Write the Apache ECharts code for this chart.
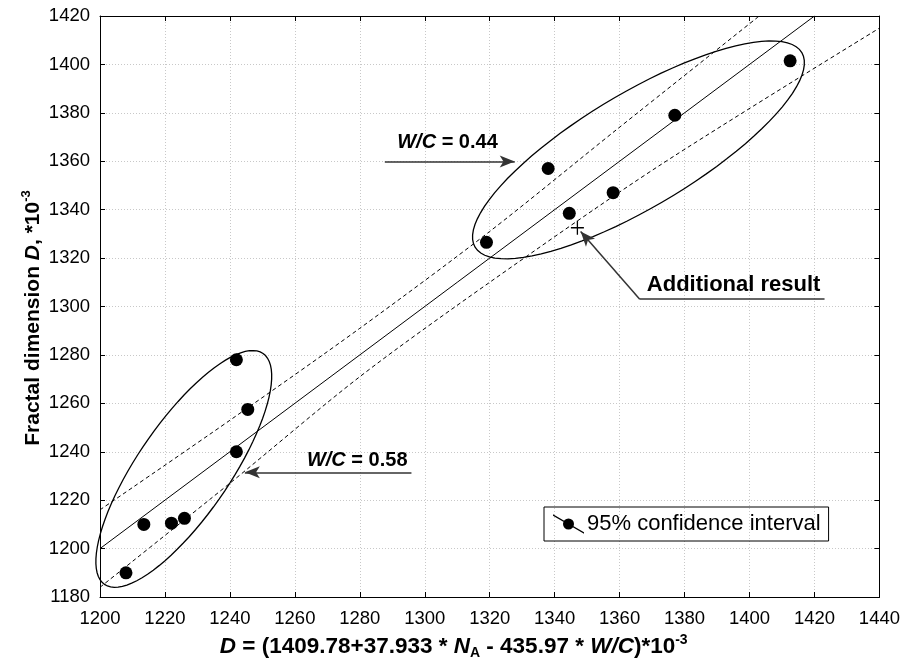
<!DOCTYPE html>
<html>
<head>
<meta charset="utf-8">
<title>Fractal dimension</title>
<script src="https://cdn.jsdelivr.net/npm/echarts/dist/echarts.min.js"></script>
<style>
  html, body { margin: 0; padding: 0; background: #fff; }
  #main { width: 903px; height: 670px; }
</style>
</head>
<body>
<div id="main"></div>
<script>
// measured points (x = calculated D, y = fractal dimension D), *10^-3
const lowGroup = [[1208, 1190], [1213.5, 1210], [1222, 1210.5], [1226, 1212.5], [1242, 1240], [1245.5, 1257.5], [1242, 1278]]
const highGroup = [[1319, 1326.5], [1338, 1357], [1344.5, 1338.5], [1358, 1347], [1377, 1379], [1412.5, 1401.5]]
const extraPoint = [[1347, 1332.5]]

// regression line and 95% band
const fitLine = [[1200, 1200], [1420, 1420]]
const upperBand = [[1200, 1216], [1240, 1253], [1280, 1291], [1320, 1331], [1359, 1373], [1403, 1420]]
const lowerBand = [[1200, 1184], [1240, 1227], [1280, 1271], [1320, 1310], [1372, 1358], [1440, 1415]]

// groups: centre x, centre y, major tip x, major tip y, minor/major ratio
const ellipses = [[1225.8, 1232.9, 1250.2, 1280.6, 0.33], [1365.8, 1364.7, 1416.1, 1404.9, 0.30]]

// annotations: [from, to] in data units
const arrow044 = [[1287.7, 1359.9], [1327.7, 1359.9]]
const arrow058 = [[1295.9, 1231.5], [1244.6, 1231.5]]
const resultUnder = [[1423.1, 1303], [1366.2, 1303]]
const resultLeader = [[1366.2, 1303], [1348, 1331]]
const labelPos = { wc044: [1307, 1367.8], wc058: [1279.2, 1236.3], result: [1395.1, 1309.1] }

const FONT = 'Liberation Sans, Arial, sans-serif'

function renderEllipse (params, api) {
  const c = api.coord([api.value(0), api.value(1)])
  const t = api.coord([api.value(2), api.value(3)])
  const dx = t[0] - c[0]
  const dy = t[1] - c[1]
  const a = Math.sqrt(dx * dx + dy * dy)
  const b = a * api.value(4)
  const ang = Math.atan2(dy, dx)
  const pts = []
  for (let k = 0; k <= 90; k++) {
    const s = k / 90 * Math.PI * 2
    const ex = a * Math.cos(s)
    const ey = b * Math.sin(s)
    pts.push([c[0] + ex * Math.cos(ang) - ey * Math.sin(ang), c[1] + ex * Math.sin(ang) + ey * Math.cos(ang)])
  }
  return {
    type: 'polygon',
    shape: { points: pts },
    style: { fill: 'none', stroke: '#000', lineWidth: 1.3 }
  }
}

function arrowLine (pair, withArrow) {
  return [
    { coord: pair[0], symbol: 'none' },
    { coord: pair[1], symbol: withArrow ? 'arrow' : 'none', symbolSize: [9, 15] }
  ]
}

function textPoint (pos, text, size) {
  return {
    coord: pos,
    symbolSize: 0,
    label: {
      show: true,
      position: [0, 0],
      align: 'center',
      verticalAlign: 'middle',
      fontSize: size,
      formatter: text,
      rich: { i: { fontFamily: FONT, fontWeight: 'bold', fontStyle: 'italic', fontSize: size, color: '#000' } }
    }
  }
}

function plainNum (v) {
  return String(v)
}

function richBold (size) {
  return {
    i: { fontFamily: FONT, fontWeight: 'bold', fontStyle: 'italic', fontSize: size, color: '#000' },
    sup: { fontFamily: FONT, fontWeight: 'bold', fontSize: Math.round(size * 0.62), color: '#000', verticalAlign: 'top' },
    sub: { fontFamily: FONT, fontWeight: 'bold', fontSize: Math.round(size * 0.62), color: '#000', verticalAlign: 'bottom' }
  }
}

const gridLine = { show: true, lineStyle: { color: '#c8c8c8', type: [1, 2], width: 1 } }
const axisLine = { show: true, onZero: false, lineStyle: { color: '#000', width: 1 } }
const tick = { show: true, inside: true, length: 5, lineStyle: { color: '#000' } }

const option = {
  animation: false,
  backgroundColor: '#fff',
  grid: { left: 100, top: 16, right: 23, bottom: 73 },
  legend: {
    data: ['95% confidence interval'],
    left: 544,
    top: 507,
    borderColor: '#000',
    borderWidth: 1,
    padding: [6, 8, 6, 9],
    itemWidth: 31,
    itemHeight: 20,
    icon: 'path://M0,0 L31,18 L31,19.5 L0,1.5 Z M10,9.75 A5.5,5.5 0 1 1 21,9.75 A5.5,5.5 0 1 1 10,9.75 Z',
    textStyle: { fontFamily: FONT, fontSize: 22, color: '#000', padding: [0, 0, 0, -2] },
    selectedMode: false
  },
  xAxis: [
    {
      type: 'value',
      min: 1200,
      max: 1440,
      interval: 20,
      axisLine: axisLine,
      axisTick: tick,
      splitLine: gridLine,
      axisLabel: { fontFamily: FONT, fontSize: 18.5, color: '#000', margin: 12, formatter: plainNum },
      name: '{i|D} = (1409.78+37.933 * {i|N}{sub|A} - 435.97 * {i|W/C})*10{sup|-3}',
      nameLocation: 'middle',
      nameGap: 34,
      nameTextStyle: {
        fontFamily: FONT, fontWeight: 'bold', fontSize: 22.5, color: '#000',
        lineHeight: 27, padding: [0, 72, 0, 0], rich: richBold(22.5)
      }
    },
    {
      type: 'value', position: 'top', min: 1200, max: 1440, interval: 20,
      axisLine: axisLine, axisTick: tick, axisLabel: { show: false }, splitLine: { show: false }
    }
  ],
  yAxis: [
    {
      type: 'value',
      min: 1180,
      max: 1420,
      interval: 20,
      axisLine: axisLine,
      axisTick: tick,
      splitLine: gridLine,
      axisLabel: { fontFamily: FONT, fontSize: 18.5, color: '#000', margin: 10, formatter: plainNum },
      name: 'Fractal dimension {i|D}, *10{sup|-3}',
      nameLocation: 'middle',
      nameRotate: 90,
      nameGap: 54,
      nameMoveOverlap: false,
      nameTextStyle: {
        fontFamily: FONT, fontWeight: 'bold', fontSize: 21, color: '#000',
        lineHeight: 26, padding: [0, 23, 0, 0], rich: richBold(21)
      }
    },
    {
      type: 'value', position: 'right', min: 1180, max: 1420, interval: 20,
      axisLine: axisLine, axisTick: tick, axisLabel: { show: false }, splitLine: { show: false }
    }
  ],
  series: [
    {
      name: 'fit',
      type: 'line',
      data: fitLine,
      showSymbol: false,
      silent: true,
      lineStyle: { color: '#000', width: 1 },
      markLine: {
        silent: true,
        animation: false,
        label: { show: false },
        lineStyle: { color: '#333', width: 1.5, type: 'solid' },
        emphasis: { disabled: true },
        data: [
          arrowLine(arrow044, true),
          arrowLine(arrow058, true),
          arrowLine(resultUnder, false),
          arrowLine(resultLeader, true)
        ]
      },
      markPoint: {
        silent: true,
        label: { fontFamily: FONT, fontWeight: 'bold', color: '#000' },
        data: [
          textPoint(labelPos.wc044, '{i|W/C} = 0.44', 20),
          textPoint(labelPos.wc058, '{i|W/C} = 0.58', 20),
          textPoint(labelPos.result, 'Additional result', 22)
        ]
      }
    },
    {
      name: 'upper',
      type: 'line',
      data: upperBand,
      smooth: 0.3,
      showSymbol: false,
      silent: true,
      lineStyle: { color: '#000', width: 1, type: [4, 3] }
    },
    {
      name: 'lower',
      type: 'line',
      data: lowerBand,
      smooth: 0.3,
      showSymbol: false,
      silent: true,
      lineStyle: { color: '#000', width: 1, type: [4, 3] }
    },
    {
      name: 'groups',
      type: 'custom',
      renderItem: renderEllipse,
      encode: { x: [0, 2], y: [1, 3] },
      data: ellipses,
      silent: true
    },
    {
      name: '95% confidence interval',
      type: 'scatter',
      symbol: 'circle',
      symbolSize: 13,
      itemStyle: { color: '#000', opacity: 1 },
      data: lowGroup.concat(highGroup)
    },
    {
      name: 'additional',
      type: 'scatter',
      symbol: 'path://M9,0 L11,0 L11,9 L20,9 L20,11 L11,11 L11,20 L9,20 L9,11 L0,11 L0,9 L9,9 Z',
      symbolSize: [13, 14],
      itemStyle: { color: '#000', opacity: 1 },
      data: extraPoint
    }
  ]
}

const myChart = echarts.init(document.getElementById('main'))
myChart.setOption(option)
</script>
</body>
</html>
